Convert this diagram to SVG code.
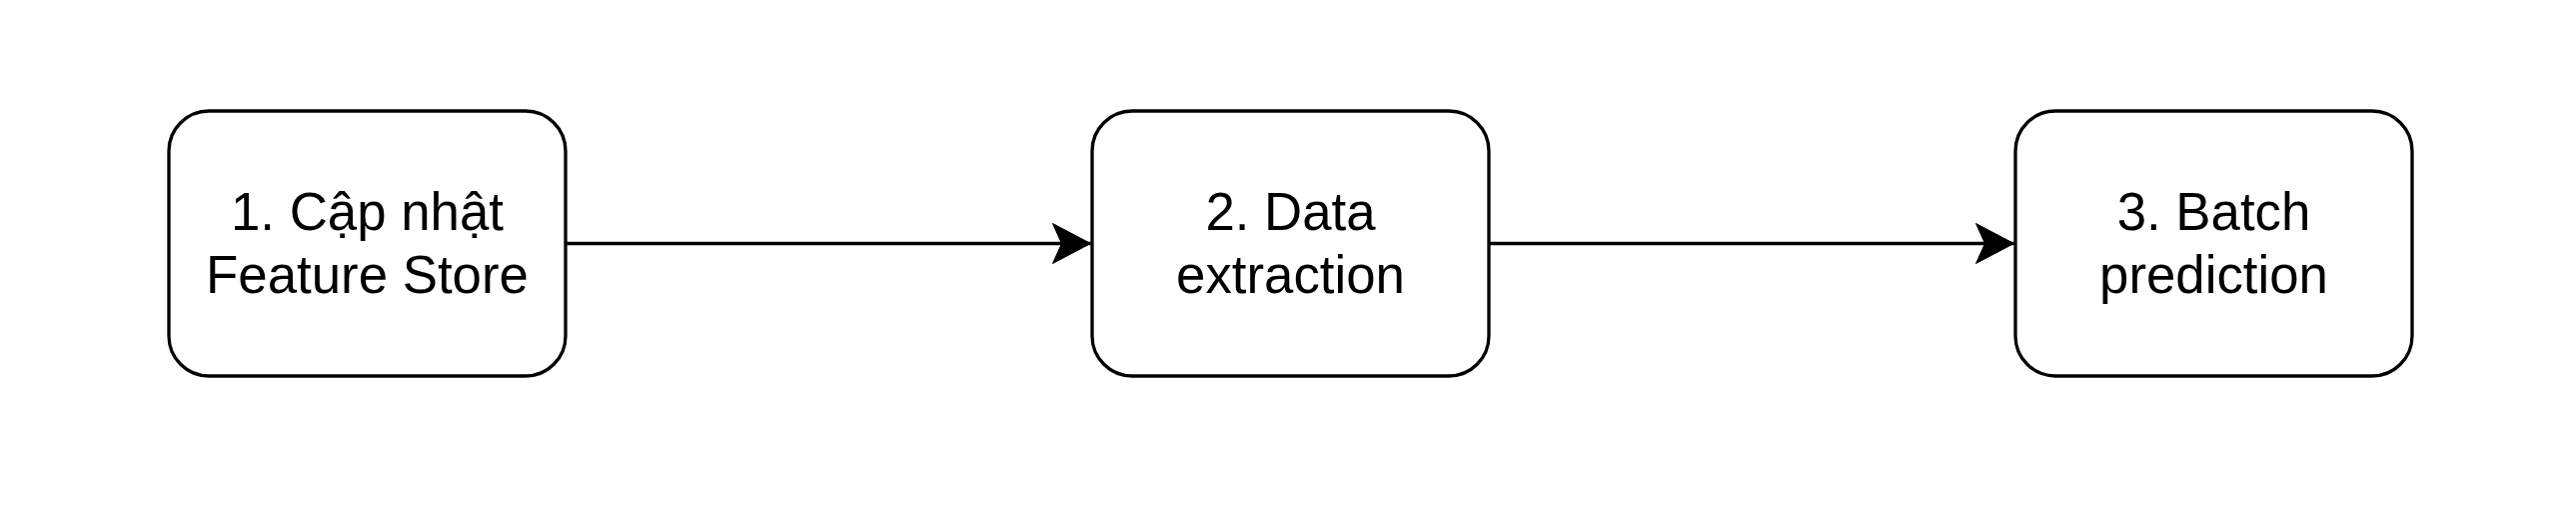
<svg xmlns="http://www.w3.org/2000/svg" width="2578" height="508" viewBox="0 0 2578 508">
<style>
.box{fill:#ffffff;stroke:#000000;stroke-width:3.3}
.lbl{font-family:"Liberation Sans",Arial,Helvetica,sans-serif;font-size:52.8px;fill:#000000;text-anchor:middle}
.edge{fill:none;stroke:#000000;stroke-width:3.3}
</style>
<defs>
<marker id="arrow" markerUnits="userSpaceOnUse" markerWidth="40" markerHeight="44" refX="38" refY="20" orient="auto" viewBox="0 0 40 40" overflow="visible">
<path d="M0,0 L38,20 L0,40 L9,20 Z" fill="#000000" stroke="#000000" stroke-width="1"/>
</marker>
</defs>
<rect x="0" y="0" width="2578" height="508" fill="#ffffff"/>
<g id="connectors">
<path class="edge" d="M567,243.5 L1091.5,243.5" marker-end="url(#arrow)"/>
<path class="edge" d="M1490,243.5 L2015.5,243.5" marker-end="url(#arrow)"/>
</g>
<g id="node1">
<rect class="box" x="169" y="111" width="397" height="265" rx="40" ry="40"/>
<text class="lbl" x="367.5" y="229.5">1. Cập nhật</text>
<text class="lbl" x="367.5" y="292.5">Feature Store</text>
</g>
<g id="node2">
<rect class="box" x="1093" y="111" width="397" height="265" rx="40" ry="40"/>
<text class="lbl" x="1291.5" y="229.5">2. Data</text>
<text class="lbl" x="1291.5" y="292.5">extraction</text>
</g>
<g id="node3">
<rect class="box" x="2017" y="111" width="397" height="265" rx="40" ry="40"/>
<text class="lbl" x="2215.5" y="229.5">3. Batch</text>
<text class="lbl" x="2215.5" y="292.5">prediction</text>
</g>
</svg>
